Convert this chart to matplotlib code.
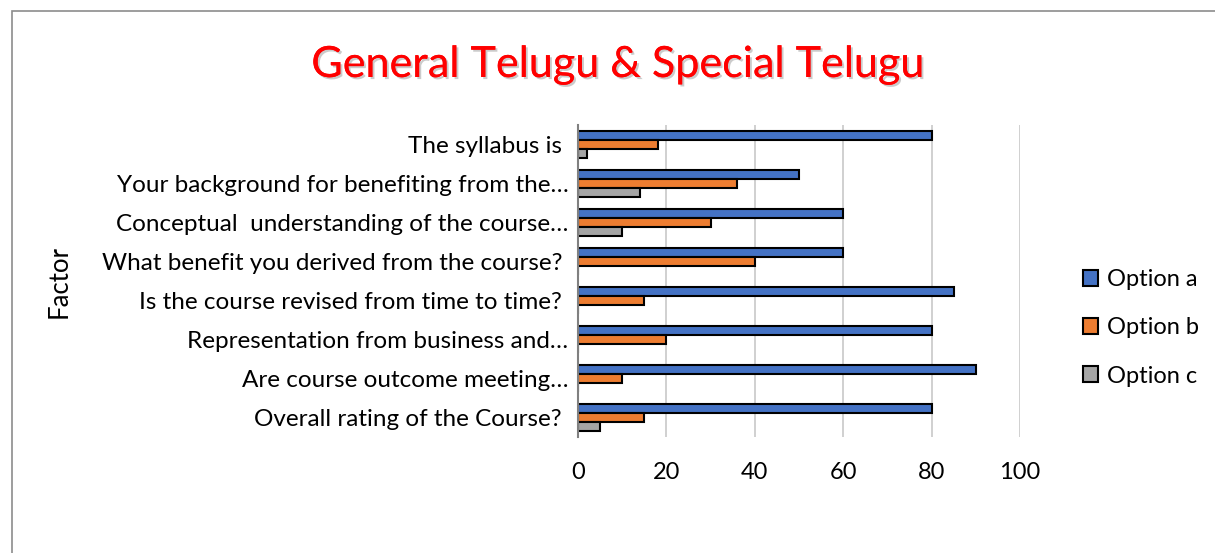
import matplotlib
matplotlib.use("Agg")
import matplotlib.pyplot as plt
import matplotlib.patheffects as pe
import numpy as np
from matplotlib.patches import Rectangle

plt.rcParams["font.family"] = ["Lato", "DejaVu Sans"]

# categories listed top to bottom as they appear
factors = [
    "The syllabus is ",
    "Your background for benefiting from the…",
    "Conceptual  understanding of the course…",
    "What benefit you derived from the course? ",
    "Is the course revised from time to time? ",
    "Representation from business and…",
    "Are course outcome meeting…",
    "Overall rating of the Course? ",
]
option_a = [80, 50, 60, 60, 85, 80, 90, 80]
option_b = [18, 36, 30, 40, 15, 20, 10, 15]
option_c = [2, 14, 10, 0, 0, 0, 0, 5]
series_names = ["Option a", "Option b", "Option c"]
colors = ["#4472C4", "#ED7D31", "#A5A5A5"]
x_ticks = [0, 20, 40, 60, 80, 100]

fig = plt.figure(figsize=(12.15, 5.53), dpi=100)
# chart frame
fig.patches.append(Rectangle((12 / 1215, -0.1), 1.2, 1 - 11 / 553 + 0.1,
                             transform=fig.transFigure, fill=False,
                             edgecolor="#8c8c8c", linewidth=1.2))

ax = fig.add_axes([578 / 1215, 1 - 437 / 553, 442 / 1215, 312 / 553])
y = np.arange(len(factors))
h = 0.22
step = 0.23
for i, (vals, name, col) in enumerate(zip([option_a, option_b, option_c], series_names, colors)):
    ax.barh(y + (i - 1) * step, vals, height=h, color=col, edgecolor="black",
            linewidth=1.5, label=name, zorder=3)

ax.set_ylim(len(factors) - 0.5, -0.5)
ax.set_xlim(0, 100)
ax.set_xticks(x_ticks)
ax.set_yticks(y)
ax.set_yticklabels(factors, fontsize=17.5)
ax.tick_params(axis="x", labelsize=17, length=0, pad=18)
ax.tick_params(axis="y", length=0, pad=7)
ax.grid(axis="x", color="#c8c8c8", linewidth=1.2, zorder=0)
for s in ["top", "right", "bottom"]:
    ax.spines[s].set_visible(False)
ax.spines["left"].set_color("#808080")
ax.spines["left"].set_linewidth(1.5)
ax.spines["left"].set_zorder(4)

ax.set_ylabel("Factor", fontsize=18.5)
ax.yaxis.set_label_coords(-506 / 442, 0.5)

fig.text(617 / 1215, 1 - 65 / 553, "General Telugu & Special Telugu", color="#ff0000",
         fontsize=31, ha="center", va="center",
         path_effects=[pe.withSimplePatchShadow(offset=(1.5, -1.5), shadow_rgbFace="#999999", alpha=0.5), pe.Normal()])

leg = fig.legend(loc="center left", bbox_to_anchor=(1083 / 1215, 1 - 328 / 553),
                 frameon=False, fontsize=17, handlelength=0.65, handleheight=0.65,
                 handletextpad=0.35, labelspacing=1.15, borderpad=0, borderaxespad=0)

fig.savefig("out.png", dpi=100)
